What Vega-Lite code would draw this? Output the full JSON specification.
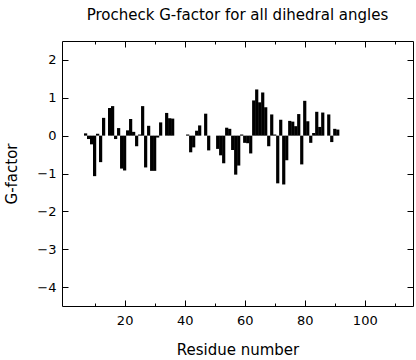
{
  "$schema": "https://vega.github.io/schema/vega-lite/v6.json",
  "autosize": {"type": "none"},
  "padding": {"left": 62, "top": 41, "right": 3, "bottom": 54},
  "width": 351,
  "height": 265,
  "background": "white",
  "title": {"text": "Procheck G-factor for all dihedral angles", "font": "DejaVu Sans", "fontSize": 15, "fontWeight": "normal", "color": "black", "frame": "group", "anchor": "middle", "baseline": "alphabetic", "offset": 6},
  "config": {
    "view": {"stroke": "black", "strokeWidth": 1},
    "axis": {"domain": false, "grid": false, "labelFont": "DejaVu Sans", "labelFontSize": 13, "labelColor": "black", "titleFont": "DejaVu Sans", "titleFontSize": 15, "titleFontWeight": "normal", "titleColor": "black", "tickColor": "black", "tickWidth": 1}
  },
  "data": {"values": [
    {"res": 7, "g": 0.06}, {"res": 8, "g": -0.09}, {"res": 9, "g": -0.23}, {"res": 10, "g": -1.07},
    {"res": 11, "g": 0.05}, {"res": 12, "g": -0.7}, {"res": 13, "g": 0.47}, {"res": 15, "g": 0.73},
    {"res": 16, "g": 0.78}, {"res": 17, "g": -0.09}, {"res": 18, "g": 0.2}, {"res": 19, "g": -0.87},
    {"res": 20, "g": -0.92}, {"res": 21, "g": 0.14}, {"res": 22, "g": 0.44}, {"res": 23, "g": 0.1},
    {"res": 24, "g": -0.28}, {"res": 25, "g": 0.03}, {"res": 26, "g": 0.78}, {"res": 27, "g": -0.84},
    {"res": 28, "g": 0.26}, {"res": 29, "g": -0.93}, {"res": 30, "g": -0.93}, {"res": 31, "g": -0.05},
    {"res": 32, "g": 0.35}, {"res": 34, "g": 0.6}, {"res": 35, "g": 0.46}, {"res": 36, "g": 0.45},
    {"res": 41, "g": 0.03}, {"res": 42, "g": -0.44}, {"res": 43, "g": -0.31}, {"res": 44, "g": 0.13},
    {"res": 45, "g": 0.27}, {"res": 47, "g": 0.58}, {"res": 48, "g": -0.39}, {"res": 51, "g": -0.35},
    {"res": 52, "g": -0.52}, {"res": 53, "g": -0.73}, {"res": 54, "g": 0.21}, {"res": 55, "g": 0.18},
    {"res": 56, "g": -0.38}, {"res": 57, "g": -1.03}, {"res": 58, "g": -0.79}, {"res": 59, "g": 0.03},
    {"res": 60, "g": -0.19}, {"res": 61, "g": -0.2}, {"res": 62, "g": -0.47}, {"res": 63, "g": 0.93},
    {"res": 64, "g": 1.22}, {"res": 65, "g": 0.88}, {"res": 66, "g": 1.14}, {"res": 67, "g": 0.75},
    {"res": 68, "g": -0.28}, {"res": 69, "g": 0.56}, {"res": 70, "g": 0.03}, {"res": 71, "g": -1.26},
    {"res": 72, "g": 0.42}, {"res": 73, "g": -1.29}, {"res": 74, "g": -0.65}, {"res": 75, "g": 0.39},
    {"res": 76, "g": 0.37}, {"res": 77, "g": 0.25}, {"res": 78, "g": 0.57}, {"res": 79, "g": -0.76},
    {"res": 80, "g": 0.92}, {"res": 81, "g": 0.38}, {"res": 82, "g": -0.19}, {"res": 83, "g": 0.07},
    {"res": 84, "g": 0.63}, {"res": 85, "g": 0.23}, {"res": 86, "g": 0.61}, {"res": 88, "g": 0.56},
    {"res": 89, "g": -0.17}, {"res": 90, "g": 0.18}, {"res": 91, "g": 0.16}
  ]},
  "layer": [
    {
      "mark": {"type": "bar", "color": "black", "size": 3.2, "orient": "vertical"},
      "encoding": {
        "x": {"field": "res", "type": "quantitative", "scale": {"domain": [0.8, 114.4], "nice": false, "zero": false},
              "axis": {"orient": "bottom", "title": "Residue number", "values": [10, 20, 30, 40, 50, 60, 70, 80, 90, 100, 110],
                       "labelExpr": "datum.value % 20 === 0 ? datum.label : ''",
                       "tickSize": {"condition": {"test": "datum.value % 20 === 0", "value": -6}, "value": -3},
                       "labelPadding": 14, "titlePadding": 15}},
        "y": {"field": "g", "type": "quantitative", "scale": {"domain": [-4.5, 2.5], "nice": false},
              "axis": {"orient": "left", "title": "G-factor", "values": [-4, -3, -2, -1, 0, 1, 2], "tickSize": -6, "labelPadding": 12, "titlePadding": 17}}
      }
    },
    {
      "mark": {"type": "point", "opacity": 0},
      "encoding": {
        "x": {"field": "res", "type": "quantitative",
              "axis": {"orient": "top", "title": null, "labels": false, "values": [10, 20, 30, 40, 50, 60, 70, 80, 90, 100, 110],
                       "tickSize": {"condition": {"test": "datum.value % 20 === 0", "value": -6}, "value": -3}}},
        "y": {"field": "g", "type": "quantitative",
              "axis": {"orient": "right", "title": null, "labels": false, "values": [-4, -3, -2, -1, 0, 1, 2], "tickSize": -6}}
      }
    }
  ],
  "resolve": {"axis": {"x": "independent", "y": "independent"}}
}
